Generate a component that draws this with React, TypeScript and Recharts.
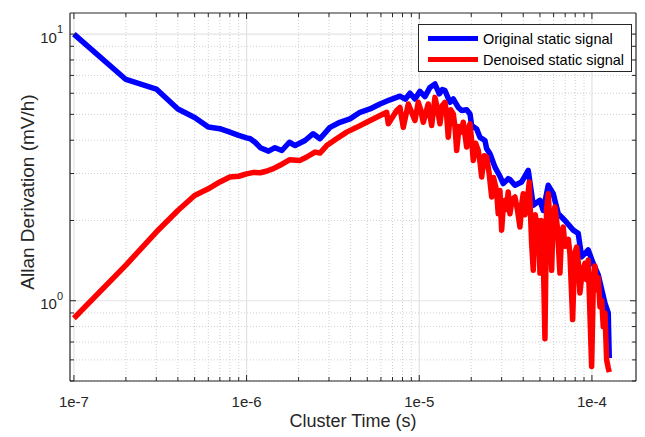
import { Line, LineChart, ReferenceLine, XAxis, YAxis } from 'recharts';

// Allan deviation (cluster time in s, value in mV/h)
const origTime = [
  1e-7, 2e-7, 3e-7, 4e-7, 5e-7, 6e-7, 7e-7, 8e-7, 9e-7, 1.0e-6,
  1.05e-6, 1.12e-6, 1.2e-6, 1.34e-6, 1.46e-6, 1.6e-6, 1.77e-6, 1.91e-6, 2.18e-6, 2.43e-6,
  2.66e-6, 3.04e-6, 3.47e-6, 3.97e-6, 4.54e-6, 5.18e-6, 5.92e-6, 6.77e-6, 7.73e-6, 8.3e-6,
  8.84e-6, 9.44e-6, 1.009e-5, 1.079e-5, 1.153e-5, 1.233e-5, 1.306e-5, 1.36e-5, 1.409e-5, 1.506e-5,
  1.574e-5, 1.682e-5, 1.76e-5, 1.882e-5, 1.967e-5, 2.012e-5, 2.15e-5, 2.246e-5, 2.402e-5, 2.456e-5,
  2.568e-5, 2.744e-5, 2.933e-5, 3.065e-5, 3.276e-5, 3.351e-5, 3.582e-5, 3.917e-5, 4.277e-5, 4.573e-5,
  5.0e-5, 5.224e-5, 5.585e-5, 5.97e-5, 6.381e-5, 6.978e-5, 7.794e-5, 8.331e-5, 8.716e-5, 9.52e-5,
  1.017e-4, 1.088e-4, 1.189e-4, 1.243e-4, 1.26e-4,
];
const origAdev = [
  10.0, 6.76, 6.22, 5.24, 4.87, 4.48, 4.42, 4.29, 4.17, 4.08,
  4.05, 3.93, 3.75, 3.64, 3.75, 3.66, 3.93, 3.82, 3.99, 4.23,
  4.05, 4.47, 4.67, 4.81, 5.09, 5.24, 5.47, 5.67, 5.85, 5.7,
  6.0, 5.71, 6.1, 5.83, 6.31, 6.5, 5.97, 6.2, 6.14, 5.55,
  5.71, 5.31, 5.17, 5.2, 5.02, 4.54, 4.41, 4.1, 3.99, 3.72,
  3.56, 3.17, 2.93, 2.75, 2.87, 2.85, 2.71, 2.79, 3.08, 2.28,
  2.38, 2.18, 2.71, 2.52, 2.12, 2.0, 1.84, 1.79, 1.46, 1.55,
  1.38, 1.25, 0.98, 0.9, 0.61,
];
const denTime = [
  1e-7, 2e-7, 3e-7, 4e-7, 5e-7, 6e-7, 7e-7, 8e-7, 9e-7, 1.0e-6,
  1.1e-6, 1.2e-6, 1.3e-6, 1.43e-6, 1.56e-6, 1.78e-6, 2.04e-6, 2.23e-6, 2.49e-6, 2.66e-6,
  2.91e-6, 3.32e-6, 3.8e-6, 4.34e-6, 4.96e-6, 5.67e-6, 6.48e-6, 6.62e-6, 7.4e-6, 7.73e-6,
  8.08e-6, 8.64e-6, 9.44e-6, 9.87e-6, 1.02e-5, 1.055e-5, 1.127e-5, 1.18e-5, 1.233e-5, 1.27e-5,
  1.318e-5, 1.36e-5, 1.409e-5, 1.44e-5, 1.472e-5, 1.52e-5, 1.574e-5, 1.61e-5, 1.647e-5, 1.7e-5,
  1.75e-5, 1.798e-5, 1.84e-5, 1.882e-5, 1.92e-5, 1.967e-5, 2.01e-5, 2.055e-5, 2.12e-5, 2.196e-5,
  2.25e-5, 2.298e-5, 2.38e-5, 2.456e-5, 2.54e-5, 2.627e-5, 2.69e-5, 2.744e-5, 2.8e-5, 2.867e-5,
  2.933e-5, 3.0e-5, 3.07e-5, 3.135e-5, 3.2e-5, 3.276e-5, 3.351e-5, 3.45e-5, 3.582e-5, 3.7e-5,
  3.829e-5, 3.92e-5, 4.001e-5, 4.09e-5, 4.187e-5, 4.335e-5, 4.476e-5, 4.573e-5, 4.7e-5, 4.8e-5,
  4.887e-5, 5.0e-5, 5.09e-5, 5.183e-5, 5.344e-5, 5.46e-5, 5.585e-5, 5.7e-5, 5.844e-5, 5.97e-5,
  6.107e-5, 6.3e-5, 6.527e-5, 6.68e-5, 6.821e-5, 6.98e-5, 7.138e-5, 7.3e-5, 7.459e-5, 7.733e-5,
  7.95e-5, 8.155e-5, 8.33e-5, 8.521e-5, 8.8e-5, 9.108e-5, 9.3e-5, 9.52e-5, 9.961e-5, 1.02e-4,
  1.04e-4, 1.065e-4, 1.088e-4, 1.113e-4, 1.14e-4, 1.163e-4, 1.19e-4, 1.217e-4, 1.243e-4, 1.26e-4,
];
const denAdev = [
  0.86, 1.36, 1.81, 2.18, 2.48, 2.63, 2.79, 2.91, 2.93, 2.99,
  3.03, 3.02, 3.06, 3.13, 3.22, 3.38, 3.36, 3.46, 3.61, 3.58,
  3.82, 4.05, 4.29, 4.47, 4.67, 4.88, 5.09, 4.61, 5.17, 5.31,
  4.47, 5.47, 4.74, 5.55, 5.2, 4.67, 5.47, 4.54, 5.79, 5.3,
  4.61, 5.4, 5.55, 5.0, 4.1, 5.2, 5.02, 4.5, 3.66, 4.5,
  4.3, 4.67, 4.2, 3.77, 4.4, 4.61, 4.0, 3.36, 3.9, 3.66,
  3.3, 2.91, 3.5, 3.46, 3.0, 2.45, 2.9, 2.75, 2.6, 2.12,
  2.59, 1.84, 2.3, 2.38, 2.2, 2.56, 2.12, 2.4, 2.45, 2.2,
  1.89, 2.3, 2.52, 2.1, 2.25, 2.79, 1.64, 1.3, 2.1, 1.8,
  2.0, 1.27, 2.0, 1.95, 0.72, 2.2, 2.52, 2.0, 1.3, 2.1,
  2.25, 1.9, 1.27, 1.8, 1.89, 1.6, 1.64, 1.7, 1.5, 0.85,
  1.5, 1.59, 1.4, 1.07, 1.3, 1.38, 1.2, 1.42, 0.567, 1.2,
  1.35, 1.1, 1.22, 0.95, 1.0, 0.8, 0.9, 0.6, 0.56, 0.54,
];

const xMajorTicks = [1e-7, 1e-6, 1e-5, 1e-4];
const xMajorLabels = ['1e-7', '1e-6', '1e-5', '1e-4'];
const xMinorTicks = [
  2e-7, 3e-7, 4e-7, 5e-7, 6e-7, 7e-7, 8e-7, 9e-7,
  2e-6, 3e-6, 4e-6, 5e-6, 6e-6, 7e-6, 8e-6, 9e-6,
  2e-5, 3e-5, 4e-5, 5e-5, 6e-5, 7e-5, 8e-5, 9e-5,
];
const yMajorTicks = [1, 10];
const yMajorExp = ['0', '1'];
const yMinorTicks = [0.5, 0.6, 0.7, 0.8, 0.9, 2, 3, 4, 5, 6, 7, 8, 9];

const seriesNames = ['Original static signal', 'Denoised static signal'];
const seriesColors = ['#0000ff', '#ff0000'];

const W = 645;
const H = 437;
const PLOT = { left: 70, right: 636, top: 13, bottom: 381 };
const X_DOMAIN: [number, number] = [0.949e-7, 1.8e-4];
const Y_DOMAIN: [number, number] = [0.5, 12];
const AXIS = '#262626';
const FONT = '"Liberation Sans", Arial, Helvetica, sans-serif';

const origData = origTime.map((t, i) => ({ t, v: origAdev[i] }));
const denData = denTime.map((t, i) => ({ t, v: denAdev[i] }));

function XTick({ x, payload }: any) {
  const idx = xMajorTicks.indexOf(payload.value);
  const len = idx >= 0 ? 6 : 4;
  return (
    <g>
      <line x1={x} x2={x} y1={PLOT.bottom} y2={PLOT.bottom - len} stroke={AXIS} />
      <line x1={x} x2={x} y1={PLOT.top} y2={PLOT.top + len} stroke={AXIS} />
      {idx >= 0 && (
        <text x={x} y={401} textAnchor="middle" dominantBaseline="central" fontSize={15} fill={AXIS} fontFamily={FONT}>
          {xMajorLabels[idx]}
        </text>
      )}
    </g>
  );
}

function YTick({ y, payload }: any) {
  const idx = yMajorTicks.indexOf(payload.value);
  const len = idx >= 0 ? 6 : 4;
  return (
    <g>
      <line x1={PLOT.left} x2={PLOT.left + len} y1={y} y2={y} stroke={AXIS} />
      <line x1={PLOT.right} x2={PLOT.right - len} y1={y} y2={y} stroke={AXIS} />
      {idx >= 0 && (
        <text x={63} y={y + 3} textAnchor="end" dominantBaseline="central" fontSize={15} fill={AXIS} fontFamily={FONT}>
          10
          <tspan dy={-8} fontSize={11}>
            {yMajorExp[idx]}
          </tspan>
        </text>
      )}
    </g>
  );
}

export default function App() {
  const xTicks = [...xMajorTicks, ...xMinorTicks].sort((a, b) => a - b);
  const yTicks = [...yMajorTicks, ...yMinorTicks].sort((a, b) => a - b);

  return (
    <div style={{ position: 'absolute', left: 0, top: 0, width: W, height: H, background: '#fff', fontFamily: FONT }}>
      <LineChart width={W} height={H} margin={{ top: PLOT.top, right: W - PLOT.right, left: 0, bottom: 0 }}>
        <XAxis
          dataKey="t"
          type="number"
          scale="log"
          domain={X_DOMAIN}
          allowDataOverflow
          ticks={xTicks}
          interval={0}
          height={H - PLOT.bottom}
          tick={(p: any) => <XTick {...p} />}
          tickLine={false}
          axisLine={{ stroke: AXIS, strokeWidth: 1.2 }}
          label={{ value: 'Cluster Time (s)', position: 'insideBottom', offset: 10, fill: AXIS, fontSize: 18, fontFamily: FONT }}
        />
        <YAxis
          dataKey="v"
          type="number"
          scale="log"
          domain={Y_DOMAIN}
          allowDataOverflow
          ticks={yTicks}
          interval={0}
          width={PLOT.left}
          tick={(p: any) => <YTick {...p} />}
          tickLine={false}
          axisLine={{ stroke: AXIS, strokeWidth: 1.2 }}
          label={{
            value: 'Allan Derivation (mV/h)',
            angle: -90,
            position: 'insideLeft',
            offset: 27,
            dy: -5,
            fill: AXIS,
            fontSize: 19,
            fontFamily: FONT,
            style: { textAnchor: 'middle' },
          }}
        />
        {xMinorTicks.map((v) => (
          <ReferenceLine key={'xm' + v} x={v} stroke="#c4c4c4" strokeDasharray="1 2" strokeWidth={0.8} />
        ))}
        {yMinorTicks.map((v) => (
          <ReferenceLine key={'ym' + v} y={v} stroke="#c4c4c4" strokeDasharray="1 2" strokeWidth={0.8} />
        ))}
        {xMajorTicks.map((v) => (
          <ReferenceLine key={'xM' + v} x={v} stroke="#e3e3e3" strokeWidth={1.2} />
        ))}
        {yMajorTicks.map((v) => (
          <ReferenceLine key={'yM' + v} y={v} stroke="#e3e3e3" strokeWidth={1.2} />
        ))}
        <ReferenceLine x={X_DOMAIN[1]} stroke={AXIS} strokeWidth={1.2} />
        <ReferenceLine y={Y_DOMAIN[1]} stroke={AXIS} strokeWidth={1.2} />
        <Line
          data={origData}
          dataKey="v"
          name={seriesNames[0]}
          stroke={seriesColors[0]}
          strokeWidth={5.5}
          strokeLinejoin="round"
          dot={false}
          isAnimationActive={false}
        />
        <Line
          data={denData}
          dataKey="v"
          name={seriesNames[1]}
          stroke={seriesColors[1]}
          strokeWidth={5.5}
          strokeLinejoin="round"
          dot={false}
          isAnimationActive={false}
        />
      </LineChart>
      <div
        style={{
          position: 'absolute',
          left: 418,
          top: 24,
          width: 214,
          height: 48,
          boxSizing: 'border-box',
          border: `1px solid ${AXIS}`,
          background: '#fff',
          padding: '3px 0 0 9px',
        }}
      >
        {seriesNames.map((name, i) => (
          <div key={name} style={{ display: 'flex', alignItems: 'center', height: 21 }}>
            <span style={{ width: 50, height: 5, background: seriesColors[i], marginRight: 5 }} />
            <span style={{ fontSize: 14.5, color: '#000', whiteSpace: 'nowrap' }}>{name}</span>
          </div>
        ))}
      </div>
    </div>
  );
}
